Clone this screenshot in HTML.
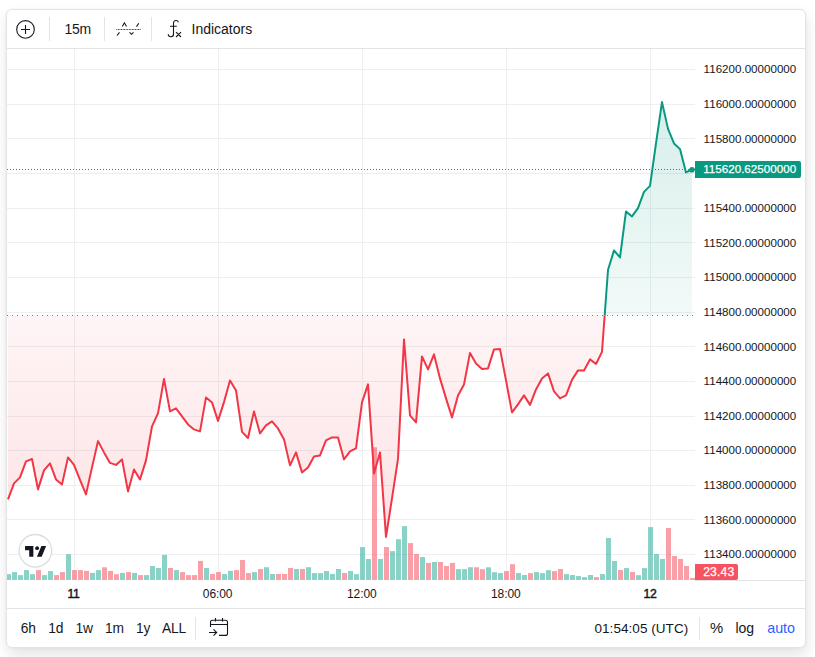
<!DOCTYPE html>
<html><head><meta charset="utf-8"><style>
html,body{margin:0;padding:0;width:815px;height:657px;overflow:hidden;background:#fff;}
body{position:relative;font-family:"Liberation Sans",sans-serif;}
.card{position:absolute;left:6px;top:9px;width:798px;height:637px;border:1px solid #e3e4e6;border-radius:6px;background:#fff;box-shadow:1px 7px 14px rgba(0,0,0,0.11), 0 0 3px rgba(0,0,0,0.05);}
svg{position:absolute;left:0;top:0;}
.t{position:absolute;white-space:nowrap;line-height:1;}
</style></head><body>
<div class="card"></div>
<svg width="815" height="657" viewBox="0 0 815 657">
<line x1="7" y1="69.5" x2="695" y2="69.5" stroke="#eeeff2" stroke-width="1"/>
<line x1="7" y1="104.5" x2="695" y2="104.5" stroke="#eeeff2" stroke-width="1"/>
<line x1="7" y1="138.5" x2="695" y2="138.5" stroke="#eeeff2" stroke-width="1"/>
<line x1="7" y1="173.5" x2="695" y2="173.5" stroke="#eeeff2" stroke-width="1"/>
<line x1="7" y1="208.5" x2="695" y2="208.5" stroke="#eeeff2" stroke-width="1"/>
<line x1="7" y1="242.5" x2="695" y2="242.5" stroke="#eeeff2" stroke-width="1"/>
<line x1="7" y1="277.5" x2="695" y2="277.5" stroke="#eeeff2" stroke-width="1"/>
<line x1="7" y1="312.5" x2="695" y2="312.5" stroke="#eeeff2" stroke-width="1"/>
<line x1="7" y1="346.5" x2="695" y2="346.5" stroke="#eeeff2" stroke-width="1"/>
<line x1="7" y1="381.5" x2="695" y2="381.5" stroke="#eeeff2" stroke-width="1"/>
<line x1="7" y1="416.5" x2="695" y2="416.5" stroke="#eeeff2" stroke-width="1"/>
<line x1="7" y1="450.5" x2="695" y2="450.5" stroke="#eeeff2" stroke-width="1"/>
<line x1="7" y1="485.5" x2="695" y2="485.5" stroke="#eeeff2" stroke-width="1"/>
<line x1="7" y1="519.5" x2="695" y2="519.5" stroke="#eeeff2" stroke-width="1"/>
<line x1="7" y1="554.5" x2="695" y2="554.5" stroke="#eeeff2" stroke-width="1"/>
<line x1="74.5" y1="49" x2="74.5" y2="580" stroke="#eeeff2" stroke-width="1"/>
<line x1="218.5" y1="49" x2="218.5" y2="580" stroke="#eeeff2" stroke-width="1"/>
<line x1="362.5" y1="49" x2="362.5" y2="580" stroke="#eeeff2" stroke-width="1"/>
<line x1="506.5" y1="49" x2="506.5" y2="580" stroke="#eeeff2" stroke-width="1"/>
<line x1="650.5" y1="49" x2="650.5" y2="580" stroke="#eeeff2" stroke-width="1"/>
<defs>
<clipPath id="cTop"><rect x="7" y="49" width="688" height="266.5"/></clipPath>
<clipPath id="cBot"><rect x="7" y="315.5" width="688" height="264.5"/></clipPath>
<clipPath id="cPane"><rect x="7" y="49" width="688" height="531"/></clipPath>
<linearGradient id="gTop" x1="0" y1="49" x2="0" y2="315.5" gradientUnits="userSpaceOnUse">
<stop offset="0" stop-color="rgb(8,153,129)" stop-opacity="0.19"/><stop offset="1" stop-color="rgb(8,153,129)" stop-opacity="0.05"/></linearGradient>
<linearGradient id="gBot" x1="0" y1="315.5" x2="0" y2="580" gradientUnits="userSpaceOnUse">
<stop offset="0" stop-color="rgb(242,54,69)" stop-opacity="0.05"/><stop offset="1" stop-color="rgb(242,54,69)" stop-opacity="0.16"/></linearGradient>
</defs>
<g clip-path="url(#cPane)">
<path d="M8.0,315.5 L8.0,499.4 L14.0,483.4 L20.0,477.4 L26.0,461.4 L32.0,459.0 L38.0,489.4 L44.0,470.4 L50.0,463.4 L56.0,479.4 L62.0,484.4 L68.0,457.4 L74.0,464.9 L80.0,479.9 L86.0,494.4 L92.0,467.4 L98.0,441.1 L104.0,452.4 L110.0,462.9 L116.0,464.9 L122.0,459.4 L128.0,491.4 L134.0,469.4 L140.0,479.4 L146.0,460.4 L152.0,426.4 L158.0,413.4 L164.0,378.9 L170.0,411.4 L176.0,408.4 L182.0,416.4 L188.0,424.4 L194.0,429.4 L200.0,431.4 L206.0,397.4 L212.0,402.4 L218.0,420.9 L224.0,402.1 L230.0,380.4 L236.0,390.4 L242.0,431.9 L248.0,438.0 L254.0,411.4 L260.0,433.4 L266.0,425.4 L272.0,421.4 L278.0,428.4 L284.0,439.4 L290.0,465.4 L296.0,452.4 L302.0,472.4 L308.0,467.4 L314.0,456.4 L320.0,455.4 L326.0,440.4 L332.0,437.4 L338.0,437.4 L344.0,459.4 L350.0,451.4 L356.0,448.4 L362.0,402.4 L368.0,384.4 L374.0,473.4 L380.0,452.4 L386.0,536.9 L392.0,498.4 L398.0,458.9 L404.0,339.4 L410.0,415.4 L416.0,422.4 L422.0,356.4 L428.0,369.4 L434.0,354.4 L440.0,378.4 L446.0,398.4 L452.0,417.4 L458.0,395.4 L464.0,384.4 L470.0,352.9 L476.0,363.4 L482.0,368.9 L488.0,368.4 L494.0,349.4 L500.0,349.0 L506.0,380.4 L512.0,412.4 L518.0,404.4 L524.0,395.4 L530.0,404.9 L536.0,389.4 L542.0,378.4 L548.0,373.4 L554.0,391.4 L560.0,398.4 L566.0,395.4 L572.0,379.9 L578.0,370.4 L584.0,370.4 L590.0,359.4 L596.0,364.0 L602.0,351.9 L608.0,270.0 L614.0,250.4 L620.0,257.4 L626.0,211.4 L632.0,216.4 L638.0,208.1 L644.0,191.9 L650.0,185.9 L656.0,143.4 L662.0,102.1 L668.0,128.9 L674.0,143.4 L680.0,149.1 L686.0,172.4 L692.0,169.7 L692.0,315.5 Z" fill="url(#gTop)" clip-path="url(#cTop)"/>
<path d="M8.0,315.5 L8.0,499.4 L14.0,483.4 L20.0,477.4 L26.0,461.4 L32.0,459.0 L38.0,489.4 L44.0,470.4 L50.0,463.4 L56.0,479.4 L62.0,484.4 L68.0,457.4 L74.0,464.9 L80.0,479.9 L86.0,494.4 L92.0,467.4 L98.0,441.1 L104.0,452.4 L110.0,462.9 L116.0,464.9 L122.0,459.4 L128.0,491.4 L134.0,469.4 L140.0,479.4 L146.0,460.4 L152.0,426.4 L158.0,413.4 L164.0,378.9 L170.0,411.4 L176.0,408.4 L182.0,416.4 L188.0,424.4 L194.0,429.4 L200.0,431.4 L206.0,397.4 L212.0,402.4 L218.0,420.9 L224.0,402.1 L230.0,380.4 L236.0,390.4 L242.0,431.9 L248.0,438.0 L254.0,411.4 L260.0,433.4 L266.0,425.4 L272.0,421.4 L278.0,428.4 L284.0,439.4 L290.0,465.4 L296.0,452.4 L302.0,472.4 L308.0,467.4 L314.0,456.4 L320.0,455.4 L326.0,440.4 L332.0,437.4 L338.0,437.4 L344.0,459.4 L350.0,451.4 L356.0,448.4 L362.0,402.4 L368.0,384.4 L374.0,473.4 L380.0,452.4 L386.0,536.9 L392.0,498.4 L398.0,458.9 L404.0,339.4 L410.0,415.4 L416.0,422.4 L422.0,356.4 L428.0,369.4 L434.0,354.4 L440.0,378.4 L446.0,398.4 L452.0,417.4 L458.0,395.4 L464.0,384.4 L470.0,352.9 L476.0,363.4 L482.0,368.9 L488.0,368.4 L494.0,349.4 L500.0,349.0 L506.0,380.4 L512.0,412.4 L518.0,404.4 L524.0,395.4 L530.0,404.9 L536.0,389.4 L542.0,378.4 L548.0,373.4 L554.0,391.4 L560.0,398.4 L566.0,395.4 L572.0,379.9 L578.0,370.4 L584.0,370.4 L590.0,359.4 L596.0,364.0 L602.0,351.9 L608.0,270.0 L614.0,250.4 L620.0,257.4 L626.0,211.4 L632.0,216.4 L638.0,208.1 L644.0,191.9 L650.0,185.9 L656.0,143.4 L662.0,102.1 L668.0,128.9 L674.0,143.4 L680.0,149.1 L686.0,172.4 L692.0,169.7 L692.0,315.5 Z" fill="url(#gBot)" clip-path="url(#cBot)"/>
<rect x="7" y="574.2" width="4" height="5.8" fill="rgba(20,165,140,0.5)"/>
<rect x="12" y="572.1" width="5" height="7.9" fill="rgba(20,165,140,0.5)"/>
<rect x="18" y="575.1" width="5" height="4.9" fill="rgba(20,165,140,0.5)"/>
<rect x="24" y="570.1" width="5" height="9.9" fill="rgba(20,165,140,0.5)"/>
<rect x="30" y="574.2" width="5" height="5.8" fill="rgba(20,165,140,0.5)"/>
<rect x="36" y="570.1" width="5" height="9.9" fill="rgba(242,64,80,0.5)"/>
<rect x="42" y="575.1" width="5" height="4.9" fill="rgba(20,165,140,0.5)"/>
<rect x="48" y="571.1" width="5" height="8.9" fill="rgba(20,165,140,0.5)"/>
<rect x="54" y="575.1" width="5" height="4.9" fill="rgba(242,64,80,0.5)"/>
<rect x="60" y="572.1" width="5" height="7.9" fill="rgba(242,64,80,0.5)"/>
<rect x="66" y="554.2" width="5" height="25.8" fill="rgba(20,165,140,0.5)"/>
<rect x="72" y="570.1" width="5" height="9.9" fill="rgba(242,64,80,0.5)"/>
<rect x="78" y="570.1" width="5" height="9.9" fill="rgba(242,64,80,0.5)"/>
<rect x="84" y="570.9" width="5" height="9.1" fill="rgba(242,64,80,0.5)"/>
<rect x="90" y="572.9" width="5" height="7.1" fill="rgba(20,165,140,0.5)"/>
<rect x="96" y="570.1" width="5" height="9.9" fill="rgba(20,165,140,0.5)"/>
<rect x="102" y="567.3" width="5" height="12.7" fill="rgba(242,64,80,0.5)"/>
<rect x="108" y="570.9" width="5" height="9.1" fill="rgba(242,64,80,0.5)"/>
<rect x="114" y="574.2" width="5" height="5.8" fill="rgba(242,64,80,0.5)"/>
<rect x="120" y="572.9" width="5" height="7.1" fill="rgba(20,165,140,0.5)"/>
<rect x="126" y="572.1" width="5" height="7.9" fill="rgba(242,64,80,0.5)"/>
<rect x="132" y="572.9" width="5" height="7.1" fill="rgba(20,165,140,0.5)"/>
<rect x="138" y="575.1" width="5" height="4.9" fill="rgba(242,64,80,0.5)"/>
<rect x="144" y="575.1" width="5" height="4.9" fill="rgba(20,165,140,0.5)"/>
<rect x="150" y="566.0" width="5" height="14.0" fill="rgba(20,165,140,0.5)"/>
<rect x="156" y="568.0" width="5" height="12.0" fill="rgba(20,165,140,0.5)"/>
<rect x="162" y="554.9" width="5" height="25.1" fill="rgba(20,165,140,0.5)"/>
<rect x="168" y="568.0" width="5" height="12.0" fill="rgba(242,64,80,0.5)"/>
<rect x="174" y="570.1" width="5" height="9.9" fill="rgba(20,165,140,0.5)"/>
<rect x="180" y="572.1" width="5" height="7.9" fill="rgba(242,64,80,0.5)"/>
<rect x="186" y="575.1" width="5" height="4.9" fill="rgba(242,64,80,0.5)"/>
<rect x="192" y="575.1" width="5" height="4.9" fill="rgba(242,64,80,0.5)"/>
<rect x="198" y="560.9" width="5" height="19.1" fill="rgba(242,64,80,0.5)"/>
<rect x="204" y="568.0" width="5" height="12.0" fill="rgba(20,165,140,0.5)"/>
<rect x="210" y="574.0" width="5" height="6.0" fill="rgba(242,64,80,0.5)"/>
<rect x="216" y="572.1" width="5" height="7.9" fill="rgba(242,64,80,0.5)"/>
<rect x="222" y="574.0" width="5" height="6.0" fill="rgba(20,165,140,0.5)"/>
<rect x="228" y="570.9" width="5" height="9.1" fill="rgba(20,165,140,0.5)"/>
<rect x="234" y="570.1" width="5" height="9.9" fill="rgba(242,64,80,0.5)"/>
<rect x="240" y="560.0" width="5" height="20.0" fill="rgba(242,64,80,0.5)"/>
<rect x="246" y="573.1" width="5" height="6.9" fill="rgba(242,64,80,0.5)"/>
<rect x="252" y="572.1" width="5" height="7.9" fill="rgba(20,165,140,0.5)"/>
<rect x="258" y="569.0" width="5" height="11.0" fill="rgba(242,64,80,0.5)"/>
<rect x="264" y="567.2" width="5" height="12.8" fill="rgba(20,165,140,0.5)"/>
<rect x="270" y="574.0" width="5" height="6.0" fill="rgba(20,165,140,0.5)"/>
<rect x="276" y="574.0" width="5" height="6.0" fill="rgba(242,64,80,0.5)"/>
<rect x="282" y="574.0" width="5" height="6.0" fill="rgba(242,64,80,0.5)"/>
<rect x="288" y="568.0" width="5" height="12.0" fill="rgba(242,64,80,0.5)"/>
<rect x="294" y="569.0" width="5" height="11.0" fill="rgba(20,165,140,0.5)"/>
<rect x="300" y="569.0" width="5" height="11.0" fill="rgba(242,64,80,0.5)"/>
<rect x="306" y="567.2" width="5" height="12.8" fill="rgba(20,165,140,0.5)"/>
<rect x="312" y="573.1" width="5" height="6.9" fill="rgba(20,165,140,0.5)"/>
<rect x="318" y="573.1" width="5" height="6.9" fill="rgba(20,165,140,0.5)"/>
<rect x="324" y="571.0" width="5" height="9.0" fill="rgba(20,165,140,0.5)"/>
<rect x="330" y="574.0" width="5" height="6.0" fill="rgba(20,165,140,0.5)"/>
<rect x="336" y="569.0" width="5" height="11.0" fill="rgba(20,165,140,0.5)"/>
<rect x="342" y="573.0" width="5" height="7.0" fill="rgba(242,64,80,0.5)"/>
<rect x="348" y="571.1" width="5" height="8.9" fill="rgba(20,165,140,0.5)"/>
<rect x="354" y="574.1" width="5" height="5.9" fill="rgba(20,165,140,0.5)"/>
<rect x="360" y="547.1" width="5" height="32.9" fill="rgba(20,165,140,0.5)"/>
<rect x="366" y="559.0" width="5" height="21.0" fill="rgba(20,165,140,0.5)"/>
<rect x="372" y="447.3" width="5" height="132.7" fill="rgba(242,64,80,0.5)"/>
<rect x="378" y="559.0" width="5" height="21.0" fill="rgba(20,165,140,0.5)"/>
<rect x="384" y="547.1" width="5" height="32.9" fill="rgba(242,64,80,0.5)"/>
<rect x="390" y="551.1" width="5" height="28.9" fill="rgba(20,165,140,0.5)"/>
<rect x="396" y="539.2" width="5" height="40.8" fill="rgba(20,165,140,0.5)"/>
<rect x="402" y="526.1" width="5" height="53.9" fill="rgba(20,165,140,0.5)"/>
<rect x="408" y="543.1" width="5" height="36.9" fill="rgba(242,64,80,0.5)"/>
<rect x="414" y="554.0" width="5" height="26.0" fill="rgba(242,64,80,0.5)"/>
<rect x="420" y="557.1" width="5" height="22.9" fill="rgba(20,165,140,0.5)"/>
<rect x="426" y="562.9" width="5" height="17.1" fill="rgba(242,64,80,0.5)"/>
<rect x="432" y="562.0" width="5" height="18.0" fill="rgba(20,165,140,0.5)"/>
<rect x="438" y="562.0" width="5" height="18.0" fill="rgba(242,64,80,0.5)"/>
<rect x="444" y="566.0" width="5" height="14.0" fill="rgba(242,64,80,0.5)"/>
<rect x="450" y="562.9" width="5" height="17.1" fill="rgba(242,64,80,0.5)"/>
<rect x="456" y="569.1" width="5" height="10.9" fill="rgba(20,165,140,0.5)"/>
<rect x="462" y="569.1" width="5" height="10.9" fill="rgba(20,165,140,0.5)"/>
<rect x="468" y="567.2" width="5" height="12.8" fill="rgba(20,165,140,0.5)"/>
<rect x="474" y="567.3" width="5" height="12.7" fill="rgba(242,64,80,0.5)"/>
<rect x="480" y="569.2" width="5" height="10.8" fill="rgba(242,64,80,0.5)"/>
<rect x="486" y="567.3" width="5" height="12.7" fill="rgba(20,165,140,0.5)"/>
<rect x="492" y="572.2" width="5" height="7.8" fill="rgba(20,165,140,0.5)"/>
<rect x="498" y="573.1" width="5" height="6.9" fill="rgba(20,165,140,0.5)"/>
<rect x="504" y="571.1" width="5" height="8.9" fill="rgba(242,64,80,0.5)"/>
<rect x="510" y="564.2" width="5" height="15.8" fill="rgba(242,64,80,0.5)"/>
<rect x="516" y="573.1" width="5" height="6.9" fill="rgba(20,165,140,0.5)"/>
<rect x="522" y="575.0" width="5" height="5.0" fill="rgba(20,165,140,0.5)"/>
<rect x="528" y="573.1" width="5" height="6.9" fill="rgba(242,64,80,0.5)"/>
<rect x="534" y="572.1" width="5" height="7.9" fill="rgba(20,165,140,0.5)"/>
<rect x="540" y="573.1" width="5" height="6.9" fill="rgba(20,165,140,0.5)"/>
<rect x="546" y="570.1" width="5" height="9.9" fill="rgba(20,165,140,0.5)"/>
<rect x="552" y="571.1" width="5" height="8.9" fill="rgba(242,64,80,0.5)"/>
<rect x="558" y="569.0" width="5" height="11.0" fill="rgba(242,64,80,0.5)"/>
<rect x="564" y="574.1" width="5" height="5.9" fill="rgba(20,165,140,0.5)"/>
<rect x="570" y="575.0" width="5" height="5.0" fill="rgba(20,165,140,0.5)"/>
<rect x="576" y="576.1" width="5" height="3.9" fill="rgba(20,165,140,0.5)"/>
<rect x="582" y="577.1" width="5" height="2.9" fill="rgba(20,165,140,0.5)"/>
<rect x="588" y="575.0" width="5" height="5.0" fill="rgba(20,165,140,0.5)"/>
<rect x="594" y="577.1" width="5" height="2.9" fill="rgba(242,64,80,0.5)"/>
<rect x="600" y="574.1" width="5" height="5.9" fill="rgba(20,165,140,0.5)"/>
<rect x="606" y="537.9" width="5" height="42.1" fill="rgba(20,165,140,0.5)"/>
<rect x="612" y="561.0" width="5" height="19.0" fill="rgba(20,165,140,0.5)"/>
<rect x="618" y="570.0" width="5" height="10.0" fill="rgba(242,64,80,0.5)"/>
<rect x="624" y="568.1" width="5" height="11.9" fill="rgba(20,165,140,0.5)"/>
<rect x="630" y="571.9" width="5" height="8.1" fill="rgba(242,64,80,0.5)"/>
<rect x="636" y="575.2" width="5" height="4.8" fill="rgba(20,165,140,0.5)"/>
<rect x="642" y="568.1" width="5" height="11.9" fill="rgba(20,165,140,0.5)"/>
<rect x="648" y="527.1" width="5" height="52.9" fill="rgba(20,165,140,0.5)"/>
<rect x="654" y="554.0" width="5" height="26.0" fill="rgba(20,165,140,0.5)"/>
<rect x="660" y="559.0" width="5" height="21.0" fill="rgba(20,165,140,0.5)"/>
<rect x="666" y="528.0" width="5" height="52.0" fill="rgba(242,64,80,0.5)"/>
<rect x="672" y="556.0" width="5" height="24.0" fill="rgba(242,64,80,0.5)"/>
<rect x="678" y="559.0" width="5" height="21.0" fill="rgba(242,64,80,0.5)"/>
<rect x="684" y="566.0" width="5" height="14.0" fill="rgba(242,64,80,0.5)"/>
<rect x="690" y="578.0" width="5" height="2.0" fill="rgba(242,64,80,0.5)"/>
<line x1="7" y1="315.5" x2="695" y2="315.5" stroke="#787b86" stroke-width="1" stroke-dasharray="1 4"/>
<line x1="7" y1="169.5" x2="695" y2="169.5" stroke="#089981" stroke-width="1" stroke-dasharray="1 2"/>
<path d="M8.0,499.4 L14.0,483.4 L20.0,477.4 L26.0,461.4 L32.0,459.0 L38.0,489.4 L44.0,470.4 L50.0,463.4 L56.0,479.4 L62.0,484.4 L68.0,457.4 L74.0,464.9 L80.0,479.9 L86.0,494.4 L92.0,467.4 L98.0,441.1 L104.0,452.4 L110.0,462.9 L116.0,464.9 L122.0,459.4 L128.0,491.4 L134.0,469.4 L140.0,479.4 L146.0,460.4 L152.0,426.4 L158.0,413.4 L164.0,378.9 L170.0,411.4 L176.0,408.4 L182.0,416.4 L188.0,424.4 L194.0,429.4 L200.0,431.4 L206.0,397.4 L212.0,402.4 L218.0,420.9 L224.0,402.1 L230.0,380.4 L236.0,390.4 L242.0,431.9 L248.0,438.0 L254.0,411.4 L260.0,433.4 L266.0,425.4 L272.0,421.4 L278.0,428.4 L284.0,439.4 L290.0,465.4 L296.0,452.4 L302.0,472.4 L308.0,467.4 L314.0,456.4 L320.0,455.4 L326.0,440.4 L332.0,437.4 L338.0,437.4 L344.0,459.4 L350.0,451.4 L356.0,448.4 L362.0,402.4 L368.0,384.4 L374.0,473.4 L380.0,452.4 L386.0,536.9 L392.0,498.4 L398.0,458.9 L404.0,339.4 L410.0,415.4 L416.0,422.4 L422.0,356.4 L428.0,369.4 L434.0,354.4 L440.0,378.4 L446.0,398.4 L452.0,417.4 L458.0,395.4 L464.0,384.4 L470.0,352.9 L476.0,363.4 L482.0,368.9 L488.0,368.4 L494.0,349.4 L500.0,349.0 L506.0,380.4 L512.0,412.4 L518.0,404.4 L524.0,395.4 L530.0,404.9 L536.0,389.4 L542.0,378.4 L548.0,373.4 L554.0,391.4 L560.0,398.4 L566.0,395.4 L572.0,379.9 L578.0,370.4 L584.0,370.4 L590.0,359.4 L596.0,364.0 L602.0,351.9 L608.0,270.0 L614.0,250.4 L620.0,257.4 L626.0,211.4 L632.0,216.4 L638.0,208.1 L644.0,191.9 L650.0,185.9 L656.0,143.4 L662.0,102.1 L668.0,128.9 L674.0,143.4 L680.0,149.1 L686.0,172.4 L692.0,169.7" fill="none" stroke="#089981" stroke-width="2" stroke-linejoin="round" clip-path="url(#cTop)"/>
<path d="M8.0,499.4 L14.0,483.4 L20.0,477.4 L26.0,461.4 L32.0,459.0 L38.0,489.4 L44.0,470.4 L50.0,463.4 L56.0,479.4 L62.0,484.4 L68.0,457.4 L74.0,464.9 L80.0,479.9 L86.0,494.4 L92.0,467.4 L98.0,441.1 L104.0,452.4 L110.0,462.9 L116.0,464.9 L122.0,459.4 L128.0,491.4 L134.0,469.4 L140.0,479.4 L146.0,460.4 L152.0,426.4 L158.0,413.4 L164.0,378.9 L170.0,411.4 L176.0,408.4 L182.0,416.4 L188.0,424.4 L194.0,429.4 L200.0,431.4 L206.0,397.4 L212.0,402.4 L218.0,420.9 L224.0,402.1 L230.0,380.4 L236.0,390.4 L242.0,431.9 L248.0,438.0 L254.0,411.4 L260.0,433.4 L266.0,425.4 L272.0,421.4 L278.0,428.4 L284.0,439.4 L290.0,465.4 L296.0,452.4 L302.0,472.4 L308.0,467.4 L314.0,456.4 L320.0,455.4 L326.0,440.4 L332.0,437.4 L338.0,437.4 L344.0,459.4 L350.0,451.4 L356.0,448.4 L362.0,402.4 L368.0,384.4 L374.0,473.4 L380.0,452.4 L386.0,536.9 L392.0,498.4 L398.0,458.9 L404.0,339.4 L410.0,415.4 L416.0,422.4 L422.0,356.4 L428.0,369.4 L434.0,354.4 L440.0,378.4 L446.0,398.4 L452.0,417.4 L458.0,395.4 L464.0,384.4 L470.0,352.9 L476.0,363.4 L482.0,368.9 L488.0,368.4 L494.0,349.4 L500.0,349.0 L506.0,380.4 L512.0,412.4 L518.0,404.4 L524.0,395.4 L530.0,404.9 L536.0,389.4 L542.0,378.4 L548.0,373.4 L554.0,391.4 L560.0,398.4 L566.0,395.4 L572.0,379.9 L578.0,370.4 L584.0,370.4 L590.0,359.4 L596.0,364.0 L602.0,351.9 L608.0,270.0 L614.0,250.4 L620.0,257.4 L626.0,211.4 L632.0,216.4 L638.0,208.1 L644.0,191.9 L650.0,185.9 L656.0,143.4 L662.0,102.1 L668.0,128.9 L674.0,143.4 L680.0,149.1 L686.0,172.4 L692.0,169.7" fill="none" stroke="#f23645" stroke-width="2" stroke-linejoin="round" clip-path="url(#cBot)"/>
<circle cx="692.0" cy="169.70000000000002" r="2.8" fill="#089981"/>
</g>
<circle cx="35.4" cy="550.8" r="16.3" fill="#fff" stroke="#dcdde0" stroke-width="1.3"/>
<g transform="translate(25.05,543.7) scale(0.594)" fill="#131722"><path d="M14 22H7V11H0V4h14v18zM28 22h-8l7.5-18h8L28 22z"/><circle cx="20.3" cy="7.6" r="3.2"/></g>
<path d="M695,161 H799 a2,2 0 0 1 2,2 V176 a2,2 0 0 1 -2,2 H695 Z" fill="#089981"/>
<path d="M695,564 H736 a2,2 0 0 1 2,2 V578 a2,2 0 0 1 -2,2 H695 Z" fill="#f7525f"/>
<line x1="695" y1="580.5" x2="805" y2="580.5" stroke="#e2e3e6" stroke-width="1"/>
<line x1="7" y1="48.5" x2="805" y2="48.5" stroke="#e2e3e6" stroke-width="1"/>
<line x1="7" y1="608.5" x2="805" y2="608.5" stroke="#e2e3e6" stroke-width="1"/>
<line x1="49.5" y1="17" x2="49.5" y2="41" stroke="#e2e3e6" stroke-width="1"/>
<line x1="104.5" y1="17" x2="104.5" y2="41" stroke="#e2e3e6" stroke-width="1"/>
<line x1="151.5" y1="17" x2="151.5" y2="41" stroke="#e2e3e6" stroke-width="1"/>
<line x1="195.5" y1="617" x2="195.5" y2="640" stroke="#e2e3e6" stroke-width="1"/>
<line x1="699.5" y1="617" x2="699.5" y2="640" stroke="#e2e3e6" stroke-width="1"/>
<circle cx="25.5" cy="29.4" r="8.8" fill="none" stroke="#131722" stroke-width="1.1"/>
<path d="M21,29.5 H30 M25.5,25 V34" stroke="#131722" stroke-width="1.1" fill="none"/>
<line x1="116.5" y1="29.5" x2="140.5" y2="29.5" stroke="#131722" stroke-width="1" stroke-dasharray="0.8 0.75"/>
<path d="M117,35.5 L119.5,32.3 M122.3,26.5 L124.4,22.8 L126.5,26.5 M129.5,32.3 L131.5,34.3 L133.5,32.3 M136.5,26.6 L138.8,23.2" stroke="#131722" stroke-width="1.1" fill="none"/>
<path d="M168.2,34.3 A2.6,2.6 0 0 0 173.5,34 V22.8 A2.5,2.5 0 0 1 178.4,22.4 M170,26.3 H176.8 M176,32.2 L181,37 M181,32.2 L176,37" stroke="#131722" stroke-width="1.1" fill="none"/>
<path d="M210.5,627 V622.3 a2,2 0 0 1 2,-2 H225.5 a2,2 0 0 1 2,2 V633.4 a2,2 0 0 1 -2,2 H219 M210.5,624.5 H227.5 M215.5,618 V621.5 M222.5,618 V621.5 M209,632.5 H216.5 M213.5,629.3 L216.7,632.5 L213.5,635.7" stroke="#131722" stroke-width="1.1" fill="none"/>
</svg>
<div class="t" style="left:64.6px;top:21.8px;font-size:14px;font-weight:400;color:#131722;letter-spacing:-0.3px;">15m</div>
<div class="t" style="left:191.5px;top:21.8px;font-size:14px;font-weight:400;color:#131722;letter-spacing:0px;">Indicators</div>
<div class="t" style="left:703.6px;top:63.3px;font-size:11.6px;font-weight:400;color:#131722;letter-spacing:0.0px;">116200.00000000</div>
<div class="t" style="left:703.6px;top:97.95px;font-size:11.6px;font-weight:400;color:#131722;letter-spacing:0.0px;">116000.00000000</div>
<div class="t" style="left:703.6px;top:132.60000000000002px;font-size:11.6px;font-weight:400;color:#131722;letter-spacing:0.0px;">115800.00000000</div>
<div class="t" style="left:703.6px;top:201.9px;font-size:11.6px;font-weight:400;color:#131722;letter-spacing:0.0px;">115400.00000000</div>
<div class="t" style="left:703.6px;top:236.55px;font-size:11.6px;font-weight:400;color:#131722;letter-spacing:0.0px;">115200.00000000</div>
<div class="t" style="left:703.6px;top:271.2px;font-size:11.6px;font-weight:400;color:#131722;letter-spacing:0.0px;">115000.00000000</div>
<div class="t" style="left:703.6px;top:305.84999999999997px;font-size:11.6px;font-weight:400;color:#131722;letter-spacing:0.0px;">114800.00000000</div>
<div class="t" style="left:703.6px;top:340.5px;font-size:11.6px;font-weight:400;color:#131722;letter-spacing:0.0px;">114600.00000000</div>
<div class="t" style="left:703.6px;top:375.15px;font-size:11.6px;font-weight:400;color:#131722;letter-spacing:0.0px;">114400.00000000</div>
<div class="t" style="left:703.6px;top:409.8px;font-size:11.6px;font-weight:400;color:#131722;letter-spacing:0.0px;">114200.00000000</div>
<div class="t" style="left:703.6px;top:444.45px;font-size:11.6px;font-weight:400;color:#131722;letter-spacing:0.0px;">114000.00000000</div>
<div class="t" style="left:703.6px;top:479.09999999999997px;font-size:11.6px;font-weight:400;color:#131722;letter-spacing:0.0px;">113800.00000000</div>
<div class="t" style="left:703.6px;top:513.75px;font-size:11.6px;font-weight:400;color:#131722;letter-spacing:0.0px;">113600.00000000</div>
<div class="t" style="left:703.6px;top:548.3999999999999px;font-size:11.6px;font-weight:400;color:#131722;letter-spacing:0.0px;">113400.00000000</div>
<div class="t" style="left:703.2px;top:163.1px;font-size:11.6px;font-weight:400;color:#fff;letter-spacing:0.02px;-webkit-text-stroke:0.25px #fff;">115620.62500000</div>
<div class="t" style="left:703.2px;top:566.3px;font-size:12.2px;font-weight:400;color:#fff;letter-spacing:0.15px;-webkit-text-stroke:0.25px #fff;">23.43</div>
<div class="t" style="left:-26.599999999999994px;width:200px;text-align:center;top:588px;font-size:12.2px;font-weight:400;color:#131722;letter-spacing:-0.3px;-webkit-text-stroke:0.45px #131722;">11</div>
<div class="t" style="left:117.6px;width:200px;text-align:center;top:588px;font-size:12px;font-weight:400;color:#131722;letter-spacing:-0.1px;">06:00</div>
<div class="t" style="left:261.8px;width:200px;text-align:center;top:588px;font-size:12px;font-weight:400;color:#131722;letter-spacing:-0.1px;">12:00</div>
<div class="t" style="left:405.8px;width:200px;text-align:center;top:588px;font-size:12px;font-weight:400;color:#131722;letter-spacing:-0.1px;">18:00</div>
<div class="t" style="left:549.9px;width:200px;text-align:center;top:588px;font-size:12.2px;font-weight:400;color:#131722;letter-spacing:-0.3px;-webkit-text-stroke:0.45px #131722;">12</div>
<div class="t" style="left:20.8px;top:621.6px;font-size:13.8px;font-weight:400;color:#131722;letter-spacing:-0.15px;">6h</div>
<div class="t" style="left:48.3px;top:621.6px;font-size:13.8px;font-weight:400;color:#131722;letter-spacing:-0.15px;">1d</div>
<div class="t" style="left:75.6px;top:621.6px;font-size:13.8px;font-weight:400;color:#131722;letter-spacing:-0.15px;">1w</div>
<div class="t" style="left:105.0px;top:621.6px;font-size:13.8px;font-weight:400;color:#131722;letter-spacing:-0.15px;">1m</div>
<div class="t" style="left:136.10000000000002px;top:621.6px;font-size:13.8px;font-weight:400;color:#131722;letter-spacing:-0.15px;">1y</div>
<div class="t" style="left:161.9px;top:621.6px;font-size:13.8px;font-weight:400;color:#131722;letter-spacing:-0.15px;">ALL</div>
<div class="t" style="left:594.5px;top:621.5px;font-size:13.5px;font-weight:400;color:#131722;letter-spacing:0.05px;">01:54:05 (UTC)</div>
<div class="t" style="left:709.9px;top:621.2px;font-size:14.8px;font-weight:400;color:#131722;letter-spacing:0px;">%</div>
<div class="t" style="left:735.4px;top:621.3px;font-size:14px;font-weight:400;color:#131722;letter-spacing:0px;">log</div>
<div class="t" style="left:767.2px;top:621.2px;font-size:14.3px;font-weight:400;color:#2962ff;letter-spacing:0px;">auto</div>
</body></html>
